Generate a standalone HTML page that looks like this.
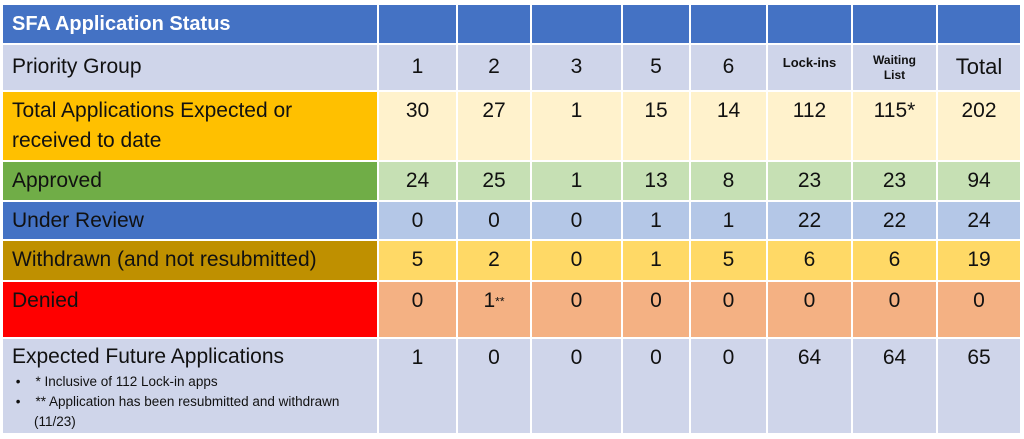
<!DOCTYPE html>
<html><head><meta charset="utf-8"><style>
body{margin:0;width:1024px;height:439px;background:#fff;overflow:hidden;font-family:"Liberation Sans",sans-serif;}
.g{position:absolute;left:3px;top:5px;display:grid;grid-template-columns:374px 77px 72px 89px 66px 75px 83px 83px 82px;grid-template-rows:38px 45px 68px 38px 37px 39px 55px 94px;gap:2px;}
.g div{box-sizing:border-box;font-size:21px;color:#111;text-align:center;padding-top:6px;line-height:26px;white-space:nowrap;overflow:hidden}
.g div.l{text-align:left;padding-left:9px}
.h{background:#4472c4}
.h.l{color:#fff!important;font-weight:bold;font-size:20px!important;padding-top:6px!important}
.p{background:#cfd5ea}
.ta{background:#ffc000}.tv{background:#fff2cc}
.aa{background:#70ad47}.av{background:#c6e0b4}
.ua{background:#4472c4}.uv{background:#b4c7e7}
.wa{background:#bf9000}.wv{background:#ffd966}
.da{background:#ff0000}.dv{background:#f4b183}
.sm{font-size:13px!important;font-weight:bold;line-height:15px!important}
</style></head><body>
<div class="g">
<div class="h l">SFA Application Status</div><div class="h"></div><div class="h"></div><div class="h"></div><div class="h"></div><div class="h"></div><div class="h"></div><div class="h"></div><div class="h"></div>
<div class="p l" style="padding-top:9px">Priority Group</div><div class="p" style="padding-top:9px">1</div><div class="p" style="padding-top:9px">2</div><div class="p" style="padding-top:9px">3</div><div class="p" style="padding-top:9px">5</div><div class="p" style="padding-top:9px">6</div><div class="p sm" style="padding-top:10px">Lock-ins</div><div class="p sm" style="padding-top:8px;font-size:12px!important">Waiting<br>List</div><div class="p" style="padding-top:9px;font-size:22px">Total</div>
<div class="ta l" style="line-height:30px;padding-top:4px">Total Applications Expected or<br>received to date</div><div class="tv">30</div><div class="tv">27</div><div class="tv">1</div><div class="tv">15</div><div class="tv">14</div><div class="tv">112</div><div class="tv">115*</div><div class="tv">202</div>
<div class="aa l">Approved</div><div class="av">24</div><div class="av">25</div><div class="av">1</div><div class="av">13</div><div class="av">8</div><div class="av">23</div><div class="av">23</div><div class="av">94</div>
<div class="ua l">Under Review</div><div class="uv">0</div><div class="uv">0</div><div class="uv">0</div><div class="uv">1</div><div class="uv">1</div><div class="uv">22</div><div class="uv">22</div><div class="uv">24</div>
<div class="wa l">Withdrawn (and not resubmitted)</div><div class="wv">5</div><div class="wv">2</div><div class="wv">0</div><div class="wv">1</div><div class="wv">5</div><div class="wv">6</div><div class="wv">6</div><div class="wv">19</div>
<div class="da l">Denied</div><div class="dv">0</div><div class="dv">1<span style="font-size:12px;vertical-align:middle">**</span></div><div class="dv">0</div><div class="dv">0</div><div class="dv">0</div><div class="dv">0</div><div class="dv">0</div><div class="dv">0</div>
<div class="p l" style="padding-top:5px"><div style="text-align:left;padding:0;font-size:21px">Expected Future Applications</div><div style="text-align:left;padding:2px 0 0 0;font-size:13.5px;line-height:20px">&nbsp;•&nbsp;&nbsp;&nbsp;&nbsp;* Inclusive of 112 Lock-in apps<br>&nbsp;•&nbsp;&nbsp;&nbsp;&nbsp;** Application has been resubmitted and withdrawn<br><span style="padding-left:22px">(11/23)</span></div></div><div class="p">1</div><div class="p">0</div><div class="p">0</div><div class="p">0</div><div class="p">0</div><div class="p">64</div><div class="p">64</div><div class="p">65</div>
</div>
</body></html>
